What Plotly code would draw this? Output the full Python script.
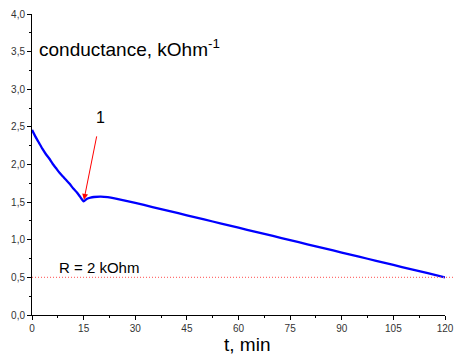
import plotly.graph_objects as go

t_min = [0, 1, 2, 3, 4, 5, 6, 7, 8, 9, 10, 11, 12, 13, 14, 15, 16, 17, 18, 20, 22, 24, 26, 30, 35, 40, 45, 50, 55, 60, 65, 70, 75, 80, 85, 90, 95, 100, 105, 110, 115, 120]
conductance = [2.46, 2.37, 2.29, 2.21, 2.14, 2.08, 2.01, 1.95, 1.89, 1.84, 1.79, 1.74, 1.68, 1.63, 1.57, 1.51, 1.545, 1.56, 1.568, 1.572, 1.565, 1.55, 1.53, 1.49, 1.435, 1.38, 1.325, 1.27, 1.215, 1.16, 1.105, 1.05, 0.995, 0.94, 0.885, 0.83, 0.775, 0.72, 0.665, 0.61, 0.555, 0.50]
r_level = 0.5
x_ticks = [0, 15, 30, 45, 60, 75, 90, 105, 120]
y_ticks = [0.0, 0.5, 1.0, 1.5, 2.0, 2.5, 3.0, 3.5, 4.0]

FONT = "Liberation Sans, Arial"

fig = go.Figure()
fig.add_trace(go.Scatter(x=t_min, y=conductance, mode="lines",
                         line=dict(color="#0000ff", width=2.3, shape="spline", smoothing=0.4),
                         showlegend=False))

fig.add_shape(type="line", xref="paper", yref="y", x0=0, x1=1.03, y0=r_level, y1=r_level,
              line=dict(color="#ff7070", width=1.2, dash="1px,2px"))

axis_common = dict(showgrid=False, zeroline=False, showline=True, linecolor="black", linewidth=1,
                   ticks="outside", ticklen=4, tickcolor="black", tickwidth=1,
                   tickfont=dict(family=FONT, size=10, color="#333333"),
                   mirror=False, automargin=False)

fig.update_xaxes(range=[0, 120], tickvals=x_ticks, ticktext=[str(v) for v in x_ticks],
                 minor=dict(ticks="outside", ticklen=2, dtick=7.5, tick0=0, tickcolor="black"),
                 **axis_common)
fig.update_yaxes(range=[0, 4], tickvals=y_ticks, ticktext=[f"{v:.1f}".replace(".", ",") for v in y_ticks],
                 minor=dict(ticks="outside", ticklen=2, dtick=0.25, tick0=0, tickcolor="black"),
                 **axis_common)

fig.add_annotation(x=0.52, y=-0.056, xref="paper", yref="paper", xanchor="center", yanchor="top",
                   text="t, min", showarrow=False,
                   font=dict(family=FONT, size=19, color="black"))
fig.add_annotation(x=1.4, y=3.55, xref="x", yref="y", xanchor="left", yanchor="middle",
                   text="conductance, kOhm<sup>-1</sup>", showarrow=False,
                   font=dict(family=FONT, size=19, color="black"))
fig.add_annotation(x=15.1, y=1.53, xref="x", yref="y", text="", showarrow=True,
                   ax=13, ay=-65, arrowcolor="red", arrowwidth=1, arrowhead=2, arrowsize=1.2)
fig.add_annotation(x=19.8, y=2.62, xref="x", yref="y", text="1", showarrow=False,
                   font=dict(family=FONT, size=16, color="black"))
fig.add_annotation(x=7.3, y=0.63, xref="x", yref="y", xanchor="left", yanchor="middle",
                   text="R = 2 kOhm", showarrow=False,
                   font=dict(family=FONT, size=15, color="black"))

fig.update_layout(width=455, height=355, margin=dict(l=32, r=10, t=14, b=40),
                  plot_bgcolor="white", paper_bgcolor="white")

fig.write_html("out.html", config={"displayModeBar": False},
               post_script="document.body.style.margin='0';document.body.style.overflow='hidden';")
